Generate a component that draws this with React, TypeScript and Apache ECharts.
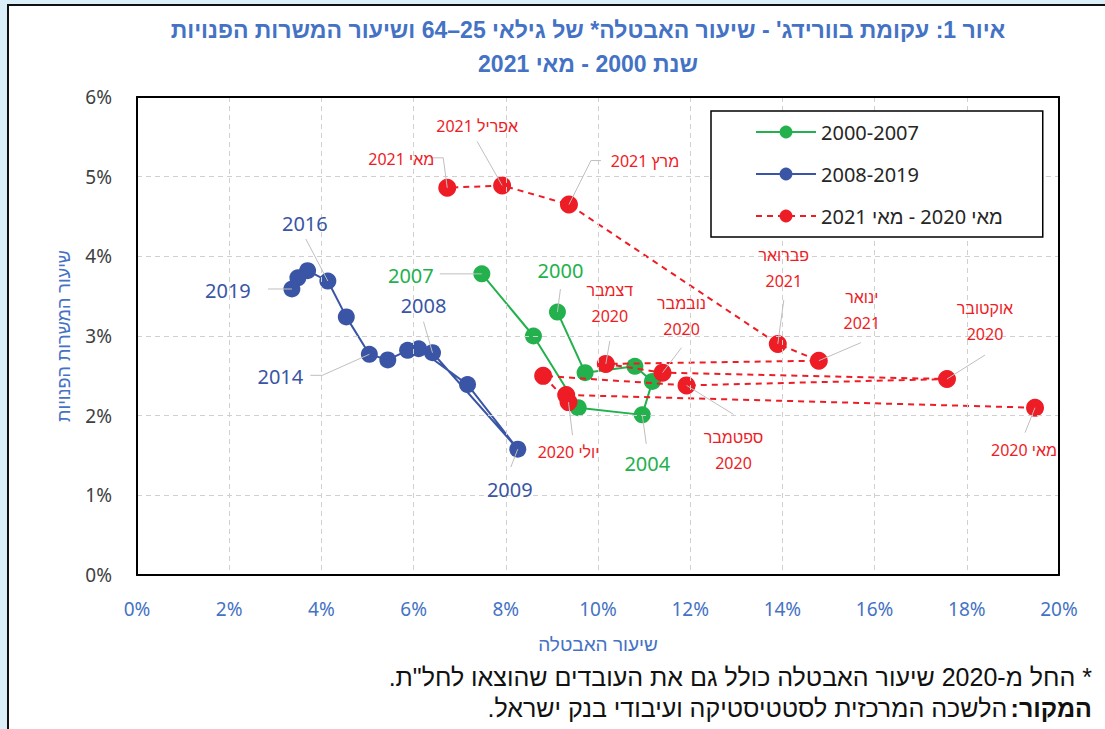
import React, { useEffect, useRef } from 'react';
import * as echarts from 'echarts';

// ---------- data ----------
const years0007 = ['2000', '2001', '2002', '2003', '2004', '2005', '2006', '2007'];
const unemp0007 = [9.12, 9.72, 10.8, 11.18, 10.96, 9.57, 8.6, 7.48];
const vac0007 = [3.3, 2.54, 2.62, 2.43, 2.01, 2.1, 3.0, 3.78];

const years0819 = ['2008', '2009', '2010', '2011', '2012', '2013', '2014', '2015', '2016', '2017', '2018', '2019'];
const unemp0819 = [6.41, 8.26, 7.17, 6.11, 5.87, 5.44, 5.04, 4.54, 4.14, 3.7, 3.49, 3.36];
const vac0819 = [2.79, 1.58, 2.39, 2.84, 2.82, 2.7, 2.77, 3.24, 3.69, 3.82, 3.73, 3.59];

const monthsCovid = ['מאי 2020', 'יוני 2020', 'יולי 2020', 'אוגוסט 2020', 'ספטמבר 2020', 'אוקטובר 2020', 'נובמבר 2020', 'דצמבר 2020', 'ינואר 2021', 'פברואר 2021', 'מרץ 2021', 'אפריל 2021', 'מאי 2021'];
const unempCovid = [19.48, 9.31, 9.36, 8.81, 11.92, 17.57, 11.4, 10.17, 14.79, 13.9, 9.37, 7.92, 6.73];
const vacCovid = [2.1, 2.26, 2.17, 2.5, 2.38, 2.46, 2.54, 2.65, 2.69, 2.9, 4.65, 4.89, 4.86];

const xTicks = [0, 2, 4, 6, 8, 10, 12, 14, 16, 18, 20];
const yTicks = [0, 1, 2, 3, 4, 5, 6];

const seriesNames = ['2000-2007', '2008-2019', 'מאי 2020 - מאי 2021'];
const titleLines = ["איור 1: עקומת בוורידג' - שיעור האבטלה* של גילאי 25–64 ושיעור המשרות הפנויות", 'שנת 2000 - מאי 2021'];
const xTitle = 'שיעור האבטלה';
const yTitle = 'שיעור המשרות הפנויות';
const note1 = '* החל מ-2020 שיעור האבטלה כולל גם את העובדים שהוצאו לחל"ת.';
const sourceLabel = 'המקור:';
const sourceText = 'הלשכה המרכזית לסטטיסטיקה ועיבודי בנק ישראל.';

// ---------- styles / label layout ----------
const GREEN = '#22b14c';
const BLUE = '#3a55a5';
const RED = '#ee1c25';
const AXIS_BLUE = '#4472c4';
const FONT = '"Noto Sans", "Liberation Sans", "DejaVu Sans", sans-serif';
const HEB = '"Liberation Sans", "DejaVu Sans", sans-serif';

const RLE = '\u202B';
const PDF = '\u202C';
const rtl = (s: string) => RLE + s + PDF;

// set: 0 green, 1 blue, 2 red ; offsets in px from the point
const labelLayout = [
  { set: 1, i: 11, tx: -64, ty: 2, wrap: false, line: [[-24, 0], [0, 0]] },
  { set: 1, i: 8, tx: -23, ty: -58, wrap: false, line: [[-22, -42], [0, 0]] },
  { set: 1, i: 6, tx: -89, ty: 22, wrap: false, line: [[-59, 21], [-47, 21], [0, 0]] },
  { set: 1, i: 0, tx: -9, ty: -47, wrap: false, line: [[-9, -31], [0, 0]] },
  { set: 1, i: 1, tx: -8, ty: 40, wrap: false, line: [[-7, 18], [0, 0]] },
  { set: 0, i: 7, tx: -71, ty: 2, wrap: false, line: [[-42, 0], [0, 0]] },
  { set: 0, i: 0, tx: 3, ty: -42, wrap: false, line: [[3, -23], [0, 0]] },
  { set: 0, i: 4, tx: 5, ty: 49, wrap: false, line: [[4, 29], [0, 0]] },
  { set: 2, i: 12, tx: -46, ty: -29, wrap: false, line: [[-17, -30], [-4, -30], [0, 0]] },
  { set: 2, i: 11, tx: -25, ty: -59, wrap: false, line: [[-25, -44], [0, 0]] },
  { set: 2, i: 10, tx: 76, ty: -44, wrap: false, line: [[32, -44], [22, -44], [0, 0]] },
  { set: 2, i: 9, tx: 6, ty: -76, wrap: true, line: [[6, -44], [0, 0]] },
  { set: 2, i: 8, tx: 43, ty: -51, wrap: true, line: [[42, -18], [0, 0]] },
  { set: 2, i: 5, tx: 38, ty: -58, wrap: true, line: [[38, -24], [0, 0]] },
  { set: 2, i: 0, tx: -11, ty: 42, wrap: false, line: [[-10, 25], [0, 0]] },
  { set: 2, i: 4, tx: 47, ty: 65, wrap: true, line: [[47, 29], [0, 0]] },
  { set: 2, i: 6, tx: 19, ty: -57, wrap: true, line: [[19, -25], [0, 0]] },
  { set: 2, i: 7, tx: 4, ty: -61, wrap: true, line: [[4, -23], [0, 0]] },
  { set: 2, i: 2, tx: 0, ty: 50, wrap: false, line: [[4, 33], [0, 0]] },
];

const sets = [
  { x: unemp0007, y: vac0007, names: years0007, color: GREEN, size: 20 },
  { x: unemp0819, y: vac0819, names: years0819, color: BLUE, size: 20 },
  { x: unempCovid, y: vacCovid, names: monthsCovid, color: RED, size: 16 },
];

const frameAxis = (extra: any) => ({
  type: 'value',
  min: extra.min,
  max: extra.max,
  position: extra.position,
  axisLine: { show: true, onZero: false, lineStyle: { color: '#000', width: 2 } },
  axisTick: { show: false },
  axisLabel: { show: false },
  splitLine: { show: false },
  z: 5,
});

export default function App() {
  const ref = useRef<HTMLDivElement>(null);

  useEffect(() => {
    if (!ref.current) return;
    const chart = echarts.init(ref.current, null, { renderer: 'svg' });

    const pts = (xs: number[], ys: number[]) => xs.map((x, i) => [x, ys[i]]);

    const annData = labelLayout.map((l, k) => {
      const s = sets[l.set];
      return [s.x[l.i], s.y[l.i], k];
    });

    const xMin = xTicks[0];
    const xMax = xTicks[xTicks.length - 1];
    const yMin = yTicks[0];
    const yMax = yTicks[yTicks.length - 1];

    const option: any = {
      animation: false,
      backgroundColor: 'transparent',
      grid: {
        left: 137,
        top: 97,
        width: 922,
        height: 478,
        show: true,
        borderWidth: 0,
        backgroundColor: '#fff',
        outerBoundsMode: 'none',
      },
      xAxis: [
        {
          type: 'value',
          min: xMin,
          max: xMax,
          interval: 2,
          axisLine: { show: true, onZero: false, lineStyle: { color: '#000', width: 2 } },
          axisTick: { show: false },
          axisLabel: {
            formatter: (v: number) => v + '%',
            color: AXIS_BLUE,
            fontSize: 19,
            fontFamily: FONT,
            margin: 24,
          },
          splitLine: { show: true, lineStyle: { color: '#d0d0d0', type: [5, 4], width: 1 } },
          name: rtl(xTitle),
          nameLocation: 'middle',
          nameGap: 60,
          nameTextStyle: { color: AXIS_BLUE, fontSize: 19, fontFamily: HEB },
          z: 5,
        },
        frameAxis({ min: xMin, max: xMax, position: 'top' }),
      ],
      yAxis: [
        {
          type: 'value',
          min: yMin,
          max: yMax,
          interval: 1,
          axisLine: { show: true, onZero: false, lineStyle: { color: '#000', width: 2 } },
          axisTick: { show: false },
          axisLabel: {
            formatter: (v: number) => v + '%',
            color: '#404040',
            fontSize: 19,
            fontFamily: FONT,
            margin: 25,
          },
          splitLine: { show: true, lineStyle: { color: '#d0d0d0', type: [5, 4], width: 1 } },
          name: rtl(yTitle),
          nameLocation: 'middle',
          nameRotate: 90,
          nameGap: 64,
          nameTextStyle: { color: AXIS_BLUE, fontSize: 18, fontFamily: HEB },
          z: 5,
        },
        frameAxis({ min: yMin, max: yMax, position: 'right' }),
      ],
      legend: {
        left: 711,
        top: 111,
        z: 20,
        orient: 'vertical',
        padding: [11, 40, 11, 44],
        itemWidth: 60,
        itemHeight: 16,
        itemGap: 22,
        borderColor: '#000',
        borderWidth: 1.5,
        backgroundColor: '#fff',
        data: [seriesNames[0], seriesNames[1], rtl(seriesNames[2])],
        textStyle: { fontSize: 20, color: '#262626', fontFamily: FONT },
      },
      series: [
        {
          type: 'line',
          name: seriesNames[1],
          data: pts(unemp0819, vac0819),
          symbol: 'circle',
          symbolSize: 17,
          itemStyle: { color: BLUE },
          lineStyle: { color: BLUE, width: 2 },
          z: 2,
        },
        {
          type: 'line',
          name: seriesNames[0],
          data: pts(unemp0007, vac0007),
          symbol: 'circle',
          symbolSize: 17,
          itemStyle: { color: GREEN },
          lineStyle: { color: GREEN, width: 2 },
          z: 3,
        },
        {
          type: 'line',
          name: rtl(seriesNames[2]),
          data: pts(unempCovid, vacCovid),
          symbol: 'circle',
          symbolSize: 18,
          itemStyle: { color: RED },
          lineStyle: { color: RED, width: 2, type: [6, 5] },
          z: 4,
        },
        {
          type: 'custom',
          data: annData,
          z: 10,
          silent: true,
          renderItem: (params: any, api: any) => {
            const k = api.value(2);
            const l = labelLayout[k];
            const s = sets[l.set];
            const p = api.coord([api.value(0), api.value(1)]);
            const name = s.names[l.i];
            const text = l.wrap ? name.split(' ').join('\n') : (l.set === 2 ? rtl(name) : name);
            return {
              type: 'group',
              children: [
                {
                  type: 'polyline',
                  shape: { points: l.line.map(([dx, dy]) => [p[0] + dx, p[1] + dy]) },
                  style: { stroke: '#bfbfbf', lineWidth: 1, fill: null },
                },
                {
                  type: 'text',
                  x: p[0] + l.tx,
                  y: p[1] + l.ty,
                  style: {
                    text,
                    fill: s.color,
                    fontSize: s.size,
                    fontFamily: FONT,
                    lineHeight: 26,
                    align: 'center',
                    verticalAlign: 'middle',
                  },
                },
              ],
            };
          },
        },
      ],
      graphic: [
        {
          type: 'text',
          x: 588,
          y: 30,
          style: {
            text: rtl(titleLines[0]),
            fill: AXIS_BLUE,
            font: 'bold 23px "Liberation Sans Narrow", "Liberation Sans", sans-serif',
            align: 'center',
            verticalAlign: 'middle',
          },
        },
        {
          type: 'text',
          x: 588,
          y: 64,
          style: {
            text: rtl(titleLines[1]),
            fill: AXIS_BLUE,
            font: 'bold 23px "Liberation Sans Narrow", "Liberation Sans", sans-serif',
            align: 'center',
            verticalAlign: 'middle',
          },
        },
        {
          type: 'text',
          x: 1092,
          y: 677,
          style: {
            text: rtl(note1),
            fill: '#111',
            font: '25px "Liberation Sans", sans-serif',
            align: 'right',
            verticalAlign: 'middle',
          },
        },
        {
          type: 'text',
          x: 1092,
          y: 708,
          style: {
            text: '{n|' + rtl(sourceText) + '} {b|' + rtl(sourceLabel) + '}',
            align: 'right',
            verticalAlign: 'middle',
            rich: {
              n: { fill: '#111', fontSize: 25, fontFamily: '"Liberation Sans", sans-serif' },
              b: { fill: '#111', fontSize: 25, fontWeight: 'bold', fontFamily: '"Liberation Sans", sans-serif' },
            },
          },
        },
      ],
    };

    chart.setOption(option);
    return () => chart.dispose();
  }, []);

  return (
    <div style={{ position: 'fixed', left: 0, top: 0, width: 1105, height: 729, background: '#daeffa', overflow: 'hidden' }}>
      <div
        style={{
          position: 'absolute',
          left: 7,
          top: 4,
          right: -10,
          bottom: -10,
          background: '#fff',
          borderLeft: '2px solid #111',
          borderTop: '2px solid #111',
        }}
      />
      <div ref={ref} style={{ position: 'absolute', left: 0, top: 0, width: 1105, height: 729 }} />
    </div>
  );
}
